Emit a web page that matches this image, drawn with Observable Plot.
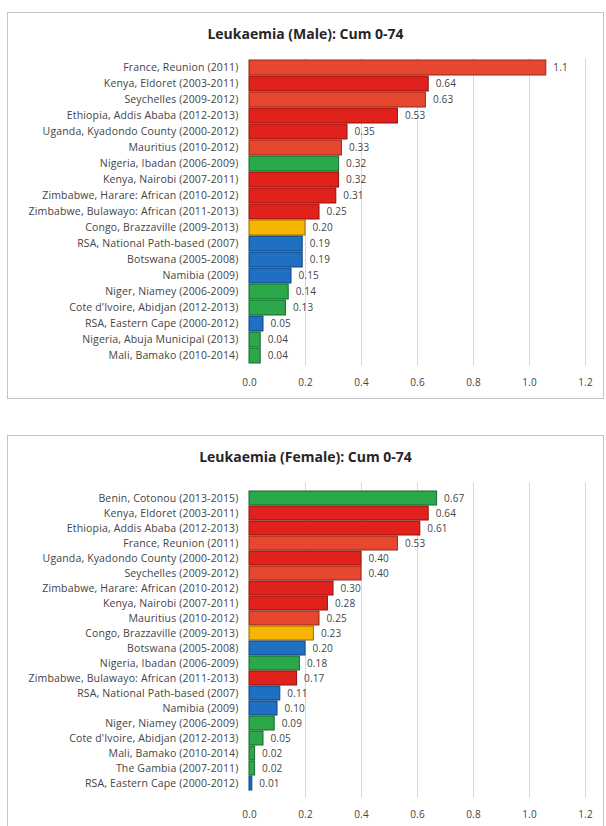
<!DOCTYPE html>
<html><head><meta charset="utf-8">
<script src="https://cdn.jsdelivr.net/npm/d3@7"></script>
<script src="https://cdn.jsdelivr.net/npm/@observablehq/plot@0.6"></script>
<style>
body{margin:0;background:#fff;font-family:"Open Sans",sans-serif;}
.panel{position:absolute;left:7px;width:597px;border:1px solid #c4c4c4;background:#fff;box-sizing:border-box;overflow:hidden;}
.title{position:absolute;left:0;right:0;top:11px;text-align:center;font-weight:bold;font-size:14px;line-height:19px;color:#262626;}
.panel svg{position:absolute;left:0;top:40px;}
.panel svg text{letter-spacing:0.15px;}
</style></head><body>
<div id="p1" class="panel" style="top:12px;height:387px"><div class="title">Leukaemia (Male): Cum 0-74</div></div>
<div id="p2" class="panel" style="top:435px;height:400px"><div class="title">Leukaemia (Female): Cum 0-74</div></div>
<script>
// Regions and their colours
const regionNames = ["East", "Islands", "West", "Central", "Southern"];
const regionColors = ["#e1211b", "#e8472f", "#2ba84a", "#f6b500", "#1f6fc2"];

// Male
const maleSites = [
  "France, Reunion (2011)",
  "Kenya, Eldoret (2003-2011)",
  "Seychelles (2009-2012)",
  "Ethiopia, Addis Ababa (2012-2013)",
  "Uganda, Kyadondo County (2000-2012)",
  "Mauritius (2010-2012)",
  "Nigeria, Ibadan (2006-2009)",
  "Kenya, Nairobi (2007-2011)",
  "Zimbabwe, Harare: African (2010-2012)",
  "Zimbabwe, Bulawayo: African (2011-2013)",
  "Congo, Brazzaville (2009-2013)",
  "RSA, National Path-based (2007)",
  "Botswana (2005-2008)",
  "Namibia (2009)",
  "Niger, Niamey (2006-2009)",
  "Cote d'Ivoire, Abidjan (2012-2013)",
  "RSA, Eastern Cape (2000-2012)",
  "Nigeria, Abuja Municipal (2013)",
  "Mali, Bamako (2010-2014)"
];
const maleValues = [1.06, 0.64, 0.63, 0.53, 0.35, 0.33, 0.32, 0.32, 0.31, 0.25, 0.20, 0.19, 0.19, 0.15, 0.14, 0.13, 0.05, 0.04, 0.04];
const maleLabels = ["1.1", "0.64", "0.63", "0.53", "0.35", "0.33", "0.32", "0.32", "0.31", "0.25", "0.20", "0.19", "0.19", "0.15", "0.14", "0.13", "0.05", "0.04", "0.04"];
const maleRegions = ["Islands", "East", "Islands", "East", "East", "Islands", "West", "East", "East", "East", "Central", "Southern", "Southern", "Southern", "West", "West", "Southern", "West", "West"];

// Female
const femaleSites = [
  "Benin, Cotonou (2013-2015)",
  "Kenya, Eldoret (2003-2011)",
  "Ethiopia, Addis Ababa (2012-2013)",
  "France, Reunion (2011)",
  "Uganda, Kyadondo County (2000-2012)",
  "Seychelles (2009-2012)",
  "Zimbabwe, Harare: African (2010-2012)",
  "Kenya, Nairobi (2007-2011)",
  "Mauritius (2010-2012)",
  "Congo, Brazzaville (2009-2013)",
  "Botswana (2005-2008)",
  "Nigeria, Ibadan (2006-2009)",
  "Zimbabwe, Bulawayo: African (2011-2013)",
  "RSA, National Path-based (2007)",
  "Namibia (2009)",
  "Niger, Niamey (2006-2009)",
  "Cote d'Ivoire, Abidjan (2012-2013)",
  "Mali, Bamako (2010-2014)",
  "The Gambia (2007-2011)",
  "RSA, Eastern Cape (2000-2012)"
];
const femaleValues = [0.67, 0.64, 0.61, 0.53, 0.40, 0.40, 0.30, 0.28, 0.25, 0.23, 0.20, 0.18, 0.17, 0.11, 0.10, 0.09, 0.05, 0.02, 0.02, 0.01];
const femaleLabels = ["0.67", "0.64", "0.61", "0.53", "0.40", "0.40", "0.30", "0.28", "0.25", "0.23", "0.20", "0.18", "0.17", "0.11", "0.10", "0.09", "0.05", "0.02", "0.02", "0.01"];
const femaleRegions = ["West", "East", "East", "Islands", "East", "Islands", "East", "East", "Islands", "Central", "Southern", "West", "East", "Southern", "Southern", "West", "West", "West", "West", "Southern"];

const xTicks = [0, 0.2, 0.4, 0.6, 0.8, 1.0, 1.2];

const fillOf = r => regionColors[regionNames.indexOf(r)];
const strokeOf = r => d3.color(fillOf(r)).darker(1.4).formatHex();

function chart(sites, values, labels, regions, opts) {
  const data = sites.map((s, i) => ({site: s, value: values[i], label: labels[i], region: regions[i]}));
  return Plot.plot({
    width: 595,
    height: opts.height,
    marginLeft: 241,
    marginRight: 18,
    marginTop: opts.marginTop,
    marginBottom: 28,
    style: {fontFamily: "'Open Sans', sans-serif", color: "#444", background: "transparent"},
    x: {domain: [0, 1.2]},
    y: {domain: sites, padding: 0.04},
    marks: [
      Plot.gridX(xTicks.slice(1), {stroke: "#d6d6d6", strokeOpacity: 1}),
      Plot.barX(data, {x: "value", y: "site", fill: d => fillOf(d.region), stroke: d => strokeOf(d.region), strokeWidth: 1}),
      Plot.text(data, {x: "value", y: "site", text: "label", dx: 7, textAnchor: "start", fontSize: 10, fill: "#444"}),
      Plot.axisY({tickSize: 0, tickPadding: 11, fontSize: 10.5, label: null}),
      Plot.axisX({ticks: xTicks, tickFormat: d3.format(".1f"), tickSize: 0, tickPadding: 12, fontSize: 10, label: null})
    ]
  });
}

document.getElementById("p1").appendChild(chart(maleSites, maleValues, maleLabels, maleRegions, {height: 341, marginTop: 5}));
document.getElementById("p2").appendChild(chart(femaleSites, femaleValues, femaleLabels, femaleRegions, {height: 350, marginTop: 6.5}));
</script>
</body></html>
